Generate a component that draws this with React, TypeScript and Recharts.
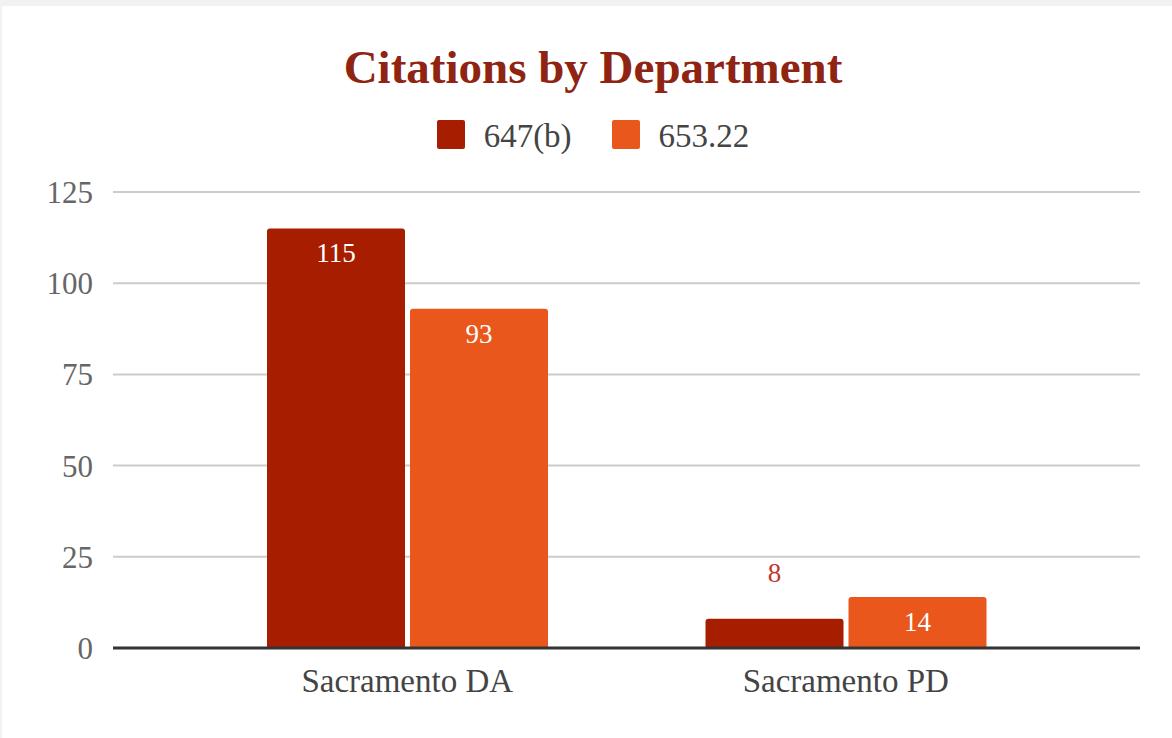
import React from 'react';
import { BarChart, Bar, XAxis, YAxis, CartesianGrid, Legend, LabelList } from 'recharts';

const categories = ['Sacramento DA', 'Sacramento PD'];
const series647b = [115, 8];
const series65322 = [93, 14];
const seriesNames = ['647(b)', '653.22'];
const seriesColors = ['#a61d00', '#e9571c'];
const yTicks = [0, 25, 50, 75, 100, 125];
const title = 'Citations by Department';

const data = categories.map((c, i) => ({ name: c, s1: series647b[i], s2: series65322[i] }));

const FONT = "'Liberation Serif', 'Times New Roman', serif";

const renderLabel = (props: any) => {
  const { x, y, width, height, value } = props;
  const inside = height > 40;
  return (
    <text
      x={x + width / 2}
      y={inside ? y + 34 : y - 37}
      textAnchor="middle"
      fill={inside ? '#ffffff' : '#c0392b'}
      fontSize={27}
      style={{ fontFamily: FONT }}
    >
      {value}
    </text>
  );
};

const renderLegend = (props: any) => {
  const { payload } = props;
  return (
    <div style={{ display: 'flex', justifyContent: 'center', alignItems: 'center', fontFamily: FONT }}>
      {(payload || []).map((p: any, i: number) => (
        <div key={i} style={{ display: 'flex', alignItems: 'center', marginLeft: i === 0 ? 0 : 40 }}>
          <div style={{ width: 28, height: 29, background: p.color, borderRadius: 2, marginRight: 19, marginTop: -3 }} />
          <span style={{ fontSize: 33, lineHeight: '34px', color: '#444' }}>{p.value}</span>
        </div>
      ))}
    </div>
  );
};

export default function App() {
  return (
    <div style={{ position: 'fixed', left: 0, top: 0, width: 1172, height: 738, background: '#f2f2f2', overflow: 'hidden', fontFamily: FONT }}>
      <div style={{ position: 'absolute', left: 2, top: 6, right: 0, bottom: 0, background: '#ffffff' }} />
      <div
        style={{
          position: 'absolute',
          left: 0,
          top: 44,
          width: 1186,
          textAlign: 'center',
          fontFamily: FONT,
          fontWeight: 'bold',
          fontSize: 47,
          lineHeight: '46px',
          color: '#8f2412',
        }}
      >
        {title}
      </div>
      <div style={{ position: 'absolute', left: 0, top: 0 }}>
        <BarChart width={1172} height={738} data={data} margin={{ top: 192, right: 32, bottom: 60, left: 0 }} barSize={138} barGap={5} style={{ fontFamily: FONT }}>
          <CartesianGrid vertical={false} stroke="#cccccc" strokeWidth={2} />
          <YAxis
            domain={[0, 125]}
            ticks={yTicks}
            axisLine={false}
            tickLine={false}
            tickMargin={14}
            width={113}
            tick={{ fontSize: 31, fill: '#666666', fontFamily: FONT }}
          />
          <XAxis
            dataKey="name"
            padding={{ left: 75, right: 75 }}
            axisLine={{ stroke: '#333333', strokeWidth: 3 }}
            tickLine={false}
            tickMargin={15}
            height={30}
            tick={{ fontSize: 33, fill: '#444444', fontFamily: FONT }}
          />
          <Legend
            layout="horizontal"
            verticalAlign="middle"
            align="center"
            content={renderLegend}
            wrapperStyle={{ top: 119, left: 0, width: 1186 }}
          />
          <Bar dataKey="s1" name={seriesNames[0]} fill={seriesColors[0]} radius={[3, 3, 0, 0]} isAnimationActive={false}>
            <LabelList dataKey="s1" content={renderLabel} />
          </Bar>
          <Bar dataKey="s2" name={seriesNames[1]} fill={seriesColors[1]} radius={[3, 3, 0, 0]} isAnimationActive={false}>
            <LabelList dataKey="s2" content={renderLabel} />
          </Bar>
        </BarChart>
      </div>
    </div>
  );
}
